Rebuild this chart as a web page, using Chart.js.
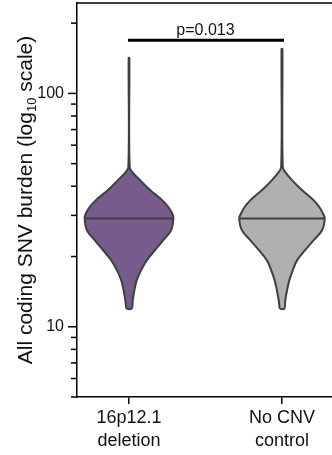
<!DOCTYPE html>
<html><head><meta charset="utf-8">
<script src="https://cdn.jsdelivr.net/npm/chart.js@4.4.1/dist/chart.umd.min.js"></script>
<style>html,body{margin:0;padding:0;background:#fff;overflow:hidden}#wrap{width:332px;height:455px;position:relative}</style>
</head><body><div id="wrap"><canvas id="c" width="332" height="455"></canvas></div>
<script>
// ---- data ----
const categories = [['16p12.1', 'deletion'], ['No CNV', 'control']];
const yTickValues = [5, 6, 7, 8, 9, 10, 20, 30, 40, 50, 60, 70, 80, 90, 100, 200];
const yTickLabels = {10: '10', 100: '100'};
// violin profiles: value (bottom -> top) and relative density (half width)
const group1Values  = [11.95, 12.97, 14.3, 15.8, 17.45, 19.25, 21.3, 23.5, 25.9, 29.1, 30.5, 32.6, 34.8, 37.2, 39.7, 42.5, 45.4, 48.4, 142];
const group1Density = [0.061, 0.084, 0.12, 0.174, 0.271, 0.40, 0.587, 0.774, 0.948, 1.0, 0.977, 0.887, 0.752, 0.571, 0.40, 0.248, 0.097, 0.015, 0.008];
const group2Values  = [11.95, 12.97, 14.3, 15.8, 17.45, 19.25, 21.3, 23.5, 25.9, 29.1, 30.5, 32.6, 34.8, 37.2, 39.7, 42.5, 45.4, 48.4, 155];
const group2Density = [0.052, 0.074, 0.113, 0.165, 0.242, 0.339, 0.52, 0.716, 0.903, 0.964, 0.926, 0.842, 0.716, 0.542, 0.377, 0.226, 0.097, 0.018, 0.010];
const medians = [29.1, 29.1];
const pValueText = 'p=0.013';

// ---- styles ----
const FONT = "'Liberation Sans', Arial, sans-serif";
const HALF_WIDTH = 0.29;        // max half width of a violin, x units
const fills = ['#785b8d', '#b0b0b0'];
const outline = '#3f3f3f';
const BRACKET_VALUE = 169;

function outlinePoints(center, vals, dens) {
  const pts = [];
  for (let i = 0; i < vals.length; i++) pts.push({x: center - dens[i] * HALF_WIDTH, y: vals[i]});
  for (let i = vals.length - 1; i >= 0; i--) pts.push({x: center + dens[i] * HALF_WIDTH, y: vals[i]});
  pts.push({...pts[0]});
  return pts;
}
function medianPoints(center, vals, dens, m) {
  const k = vals.indexOf(m);
  const d = dens[k];
  return [{x: center - d * HALF_WIDTH, y: m}, {x: center + d * HALF_WIDTH, y: m}];
}
const groups = [[group1Values, group1Density], [group2Values, group2Density]];
const datasets = [];
groups.forEach((g, i) => {
  datasets.push({
    data: outlinePoints(i + 1, g[0], g[1]),
    showLine: true, fill: 'shape', backgroundColor: fills[i], borderColor: outline,
    borderWidth: 2, pointRadius: 0, tension: 0.35, order: 2
  });
});
groups.forEach((g, i) => {
  datasets.push({
    data: medianPoints(i + 1, g[0], g[1], medians[i]),
    showLine: true, fill: false, borderColor: outline, borderWidth: 2, pointRadius: 0, tension: 0, order: 1
  });
});

const decor = {
  id: 'decor',
  afterDraw(chart) {
    const {ctx, chartArea: a, scales: {x, y}} = chart;
    ctx.save();
    ctx.strokeStyle = '#000';
    ctx.lineWidth = 1.5;
    // top border
    ctx.beginPath(); ctx.moveTo(a.left, a.top); ctx.lineTo(chart.width, a.top); ctx.stroke();
    // y tick marks
    yTickValues.forEach(v => {
      const py = y.getPixelForValue(v);
      const len = yTickLabels[v] ? 9 : 6;
      ctx.beginPath(); ctx.moveTo(a.left - len, py); ctx.lineTo(a.left, py); ctx.stroke();
    });
    // significance bracket
    const by = y.getPixelForValue(BRACKET_VALUE);
    const x1 = x.getPixelForValue(1), x2 = x.getPixelForValue(2);
    ctx.lineWidth = 3;
    ctx.beginPath(); ctx.moveTo(x1 - 1, by); ctx.lineTo(x2 + 2, by); ctx.stroke();
    ctx.fillStyle = '#111';
    ctx.font = `16px ${FONT}`;
    ctx.textAlign = 'center'; ctx.textBaseline = 'alphabetic';
    ctx.fillText(pValueText, (x1 + x2) / 2, by - 5.5);
    // axis title with subscript
    const main1 = 'All coding SNV burden (log', sub = '10', main2 = ' scale)';
    const big = `21px ${FONT}`, small = `13px ${FONT}`;
    ctx.font = big; const w1 = ctx.measureText(main1).width, w3 = ctx.measureText(main2).width;
    ctx.font = small; const w2 = ctx.measureText(sub).width;
    const total = w1 + w2 + w3;
    ctx.translate(32, (a.top + a.bottom) / 2);
    ctx.rotate(-Math.PI / 2);
    ctx.textAlign = 'left';
    let sx = -total / 2;
    ctx.font = big; ctx.fillText(main1, sx, 0); sx += w1;
    ctx.font = small; ctx.fillText(sub, sx, 4); sx += w2;
    ctx.font = big; ctx.fillText(main2, sx, 0);
    ctx.restore();
  }
};

function noPad(s) { s.paddingTop = 0; s.paddingBottom = 0; s.paddingLeft = 0; s.paddingRight = 0; }

new Chart(document.getElementById('c'), {
  type: 'scatter',
  data: {datasets},
  options: {
    responsive: false, animation: false, devicePixelRatio: 1, events: [],
    layout: {padding: {top: 3, left: 0, right: 0, bottom: 0}},
    plugins: {legend: {display: false}, tooltip: {enabled: false}},
    scales: {
      x: {
        type: 'linear', min: 0.66, max: 2.327,
        afterBuildTicks: s => { s.ticks = [1, 2].map(v => ({value: v})); },
        ticks: {callback: (v, i) => categories[i], font: {family: FONT, size: 18, lineHeight: 1.3}, color: '#111', padding: 2, maxRotation: 0, autoSkip: false},
        grid: {drawOnChartArea: false, drawTicks: true, tickLength: 7, color: '#000', lineWidth: 1.5},
        border: {display: true, color: '#000', width: 1.5},
        afterFit: s => { s.height = 58; noPad(s); }
      },
      y: {
        type: 'logarithmic', min: 5, max: 244,
        afterBuildTicks: s => { s.ticks = yTickValues.map(v => ({value: v})); },
        ticks: {callback: v => (yTickLabels[v] !== undefined ? yTickLabels[v] : null), font: {family: FONT, size: 16}, color: '#111', padding: 4, autoSkip: false},
        grid: {drawOnChartArea: false, drawTicks: true, tickLength: 9, color: 'rgba(0,0,0,0)'},
        border: {display: true, color: '#000', width: 1.5},
        afterFit: s => { s.width = 77; noPad(s); }
      }
    }
  },
  plugins: [decor]
});
</script></body></html>
